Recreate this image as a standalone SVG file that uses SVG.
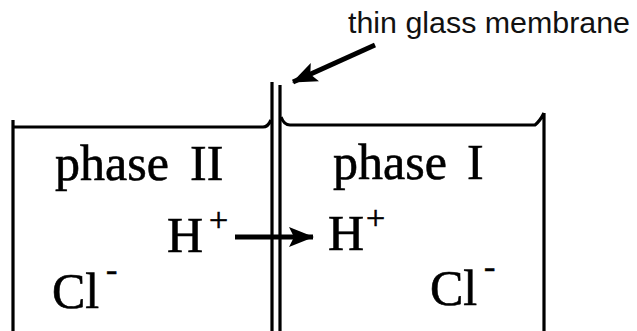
<svg xmlns="http://www.w3.org/2000/svg" width="637" height="331" viewBox="0 0 637 331">
<style>
.ser{font-family:"Liberation Serif","Times New Roman",serif;fill:#000;stroke:#000;stroke-width:0.6}
.big{font-size:50px}
.sup{font-size:34px}
.wall{fill:none;stroke:#000;stroke-width:3.2;stroke-linejoin:round;stroke-linecap:butt}
.conn{fill:none;stroke:#000;stroke-width:5}
</style>
<defs>
<marker id="ah" markerUnits="userSpaceOnUse" markerWidth="28" markerHeight="22" refX="24" refY="10" orient="auto" viewBox="0 0 28 20">
<path d="M0,0 L25,10 L0,20 L5,10 Z" fill="#000"/>
</marker>
</defs>
<rect width="637" height="331" fill="#fff"/>
<g id="label">
<text x="348" y="33" font-family="Liberation Sans, Arial, sans-serif" font-size="29" textLength="282" lengthAdjust="spacingAndGlyphs" fill="#111">thin glass membrane</text>
</g>
<g id="membrane">
<line class="wall" x1="272" y1="82" x2="272" y2="331"/>
<line class="wall" x1="280" y1="85" x2="280" y2="331"/>
</g>
<g id="phase2">
<path class="wall" d="M13,120 L13,331 M13,127 L263,127 Q268,127 271,120"/>
<text class="ser big" x="55" y="180">phase<tspan x="190">II</tspan></text>
<text class="ser big" x="167" y="252">H</text>
<text class="ser sup" x="209" y="231">+</text>
<text class="ser big" x="52" y="308">Cl</text>
<text class="ser sup" x="106" y="281">-</text>
</g>
<g id="phase1">
<path class="wall" d="M281,117 Q284,125 290,125 L535,125 Q540,121 544,113 M544,113 L544,331"/>
<text class="ser big" x="333" y="179">phase<tspan x="467">I</tspan></text>
<text class="ser big" x="328" y="250">H</text>
<text class="ser sup" x="366" y="229">+</text>
<text class="ser big" x="430" y="305">Cl</text>
<text class="ser sup" x="484" y="278">-</text>
</g>
<g id="connectors">
<line class="conn" x1="235" y1="237" x2="313" y2="237" marker-end="url(#ah)"/>
<line class="conn" x1="375" y1="45" x2="293" y2="82" marker-end="url(#ah)"/>
</g>
</svg>
